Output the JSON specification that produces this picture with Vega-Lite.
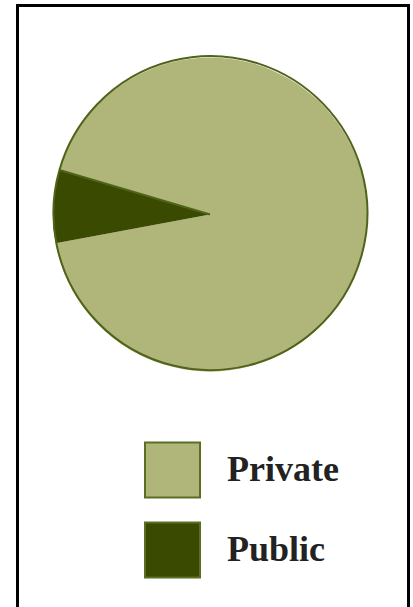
{
  "$schema": "https://vega.github.io/schema/vega-lite/v6.json",
  "autosize": "none",
  "width": 391,
  "height": 612,
  "padding": {"left": 17.5, "top": 5.5, "right": 4.5, "bottom": 0},
  "background": "white",
  "config": {"view": {"stroke": null}},
  "layer": [
    {
      "data": {"values": [{"frame": 1}]},
      "mark": {"type": "rect", "x": 0, "y": 0, "x2": {"expr": "width"}, "y2": {"expr": "height"}, "fill": null, "filled": false, "stroke": "#000000", "strokeWidth": 3},
      "encoding": {}
    },
    {
      "data": {"values": [
        {"sector": "Private", "share": 92.5},
        {"sector": "Public", "share": 7.5}
      ]},
      "layer": [
        {
          "mark": {"type": "arc", "outerRadius": 157, "x": 192.5, "y": 209},
          "encoding": {
            "theta": {"field": "share", "type": "quantitative", "stack": true, "scale": {"range": [-1.283, 5.0]}},
            "order": {"field": "sector", "sort": "ascending"},
            "color": {
              "field": "sector", "type": "nominal",
              "scale": {"domain": ["Private", "Public"], "range": ["#b0b57a", "#3a4a00"]},
              "legend": {
                "title": null, "orient": "none", "legendX": 126.5, "legendY": 436,
                "padding": 0, "symbolType": "square", "symbolSize": 3025,
                "symbolStrokeColor": "#5b6e22", "symbolStrokeWidth": 2, "symbolOpacity": 1,
                "labelFont": "Liberation Serif", "labelFontWeight": "bold", "labelFontSize": 36,
                "labelColor": "#222222", "labelOffset": 26, "rowPadding": 17
              }
            }
          }
        },
        {
          "mark": {"type": "arc", "outerRadius": 157, "x": 192.5, "y": 209, "filled": false, "stroke": "#4f6319", "strokeWidth": 2},
          "encoding": {
            "theta": {"aggregate": "sum", "field": "share", "type": "quantitative", "scale": {"range": [-1.283, 5.0]}}
          }
        }
      ]
    }
  ]
}
